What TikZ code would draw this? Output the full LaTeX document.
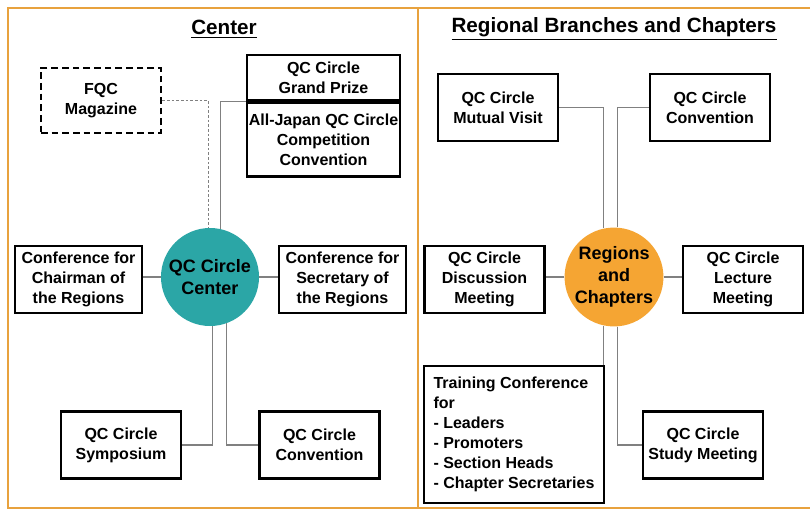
\documentclass[tikz,border=0pt]{standalone}
\usepackage{fontspec}
\setmainfont{Liberation Sans}
\usetikzlibrary{positioning}
\definecolor{frameorange}{HTML}{E8A23E}
\definecolor{hubteal}{HTML}{2BA6A6}
\definecolor{huborange}{HTML}{F5A533}
\definecolor{linkgray}{HTML}{808080}

\begin{document}
\begin{tikzpicture}[x=0.75pt, y=-0.75pt,
  every node/.style={font=\bfseries\fontsize{12}{15}\selectfont},
  box/.style={draw, line width=1.9pt, align=center, inner sep=2pt, minimum width=90pt, minimum height=50pt},
  hub/.style={circle, minimum size=73.5pt, inner sep=0pt, align=center, font=\bfseries\fontsize{13.5}{16.5}\selectfont},
  link/.style={draw=linkgray, line width=0.9pt},
  title/.style={font=\bfseries\fontsize{15.5}{18}\selectfont}]
  \useasboundingbox[fill=white] (0,0) rectangle (810,510);
  \clip (0,0) rectangle (810,510);
  % frame of the two panels
  \draw[frameorange, line width=1.6pt] (8,8) rectangle (840,508) (418,8) -- (418,508);

  \node[title] (ctitle) at (224,29) {\underline{Center}};
  \node[title] (rtitle) at (614,29) {\underline{Regional Branches and Chapters}};

  % left panel
  \node[hub, fill=hubteal, font=\bfseries\fontsize{13.5}{17}\selectfont] (cc) at (210,277) {QC Circle\\Center};
  \node[box, dash pattern=on 5pt off 3pt, minimum height=48.75pt] (fqc) at (101,100.5) {FQC\\Magazine};
  \node[box, minimum width=114.75pt, minimum height=33.75pt] (gp) at (323.5,77.5) {QC Circle\\Grand Prize};
  \node[box, minimum width=114.75pt, minimum height=55.5pt, inner sep=0pt, below=0pt of gp] (allj) {All-Japan QC Circle\\Competition\\Convention};
  \node[box, minimum width=95.25pt] (chair) at (78.5,279.5) {Conference for\\Chairman of\\the Regions};
  \node[box, minimum width=95.25pt] (secr) at (342.5,279.5) {Conference for\\Secretary of\\the Regions};
  \node[box] (symp) at (121,445) {QC Circle\\Symposium};
  \node[box] (lconv) at (319.5,445) {QC Circle\\Convention};

  \draw[link, line width=0.6pt, dash pattern=on 2pt off 1.5pt] (fqc.east) -| (cc.92);
  \draw[link] (gp.south west) -| (cc.78);
  \draw[link] (cc.west) -- (cc.west -| chair.east);
  \draw[link] (cc.east) -- (cc.east -| secr.west);
  \draw[link] (cc.-87) |- (symp.east);
  \draw[link] (cc.-70) |- (lconv.west);

  % right panel
  \node[hub, fill=huborange] (rc) at (614,277) {Regions\\and\\Chapters};
  \node[box] (visit) at (498,107.5) {QC Circle\\Mutual Visit};
  \node[box] (rconv) at (710,107.5) {QC Circle\\Convention};
  \node[box] (disc) at (484.5,279.5) {QC Circle\\Discussion\\Meeting};
  \node[box] (lect) at (743,279.5) {QC Circle\\Lecture\\Meeting};
  \node[box, align=left, minimum width=135pt, minimum height=102.75pt] (train) at (514,434.5)
    {Training Conference\\for\\- Leaders\\- Promoters\\- Section Heads\\- Chapter Secretaries};
  \node[box] (study) at (703,445) {QC Circle\\Study Meeting};

  \draw[link] (visit.east) -| (rc.102);
  \draw[link] (rconv.west) -| (rc.86);
  \draw[link] (rc.west) -- (rc.west -| disc.east);
  \draw[link] (rc.east) -- (rc.east -| lect.west);
  \draw[link] (rc.-102) -- (rc.-102 |- train.north);
  \draw[link] (rc.-86) |- (study.west);
\end{tikzpicture}
\end{document}
